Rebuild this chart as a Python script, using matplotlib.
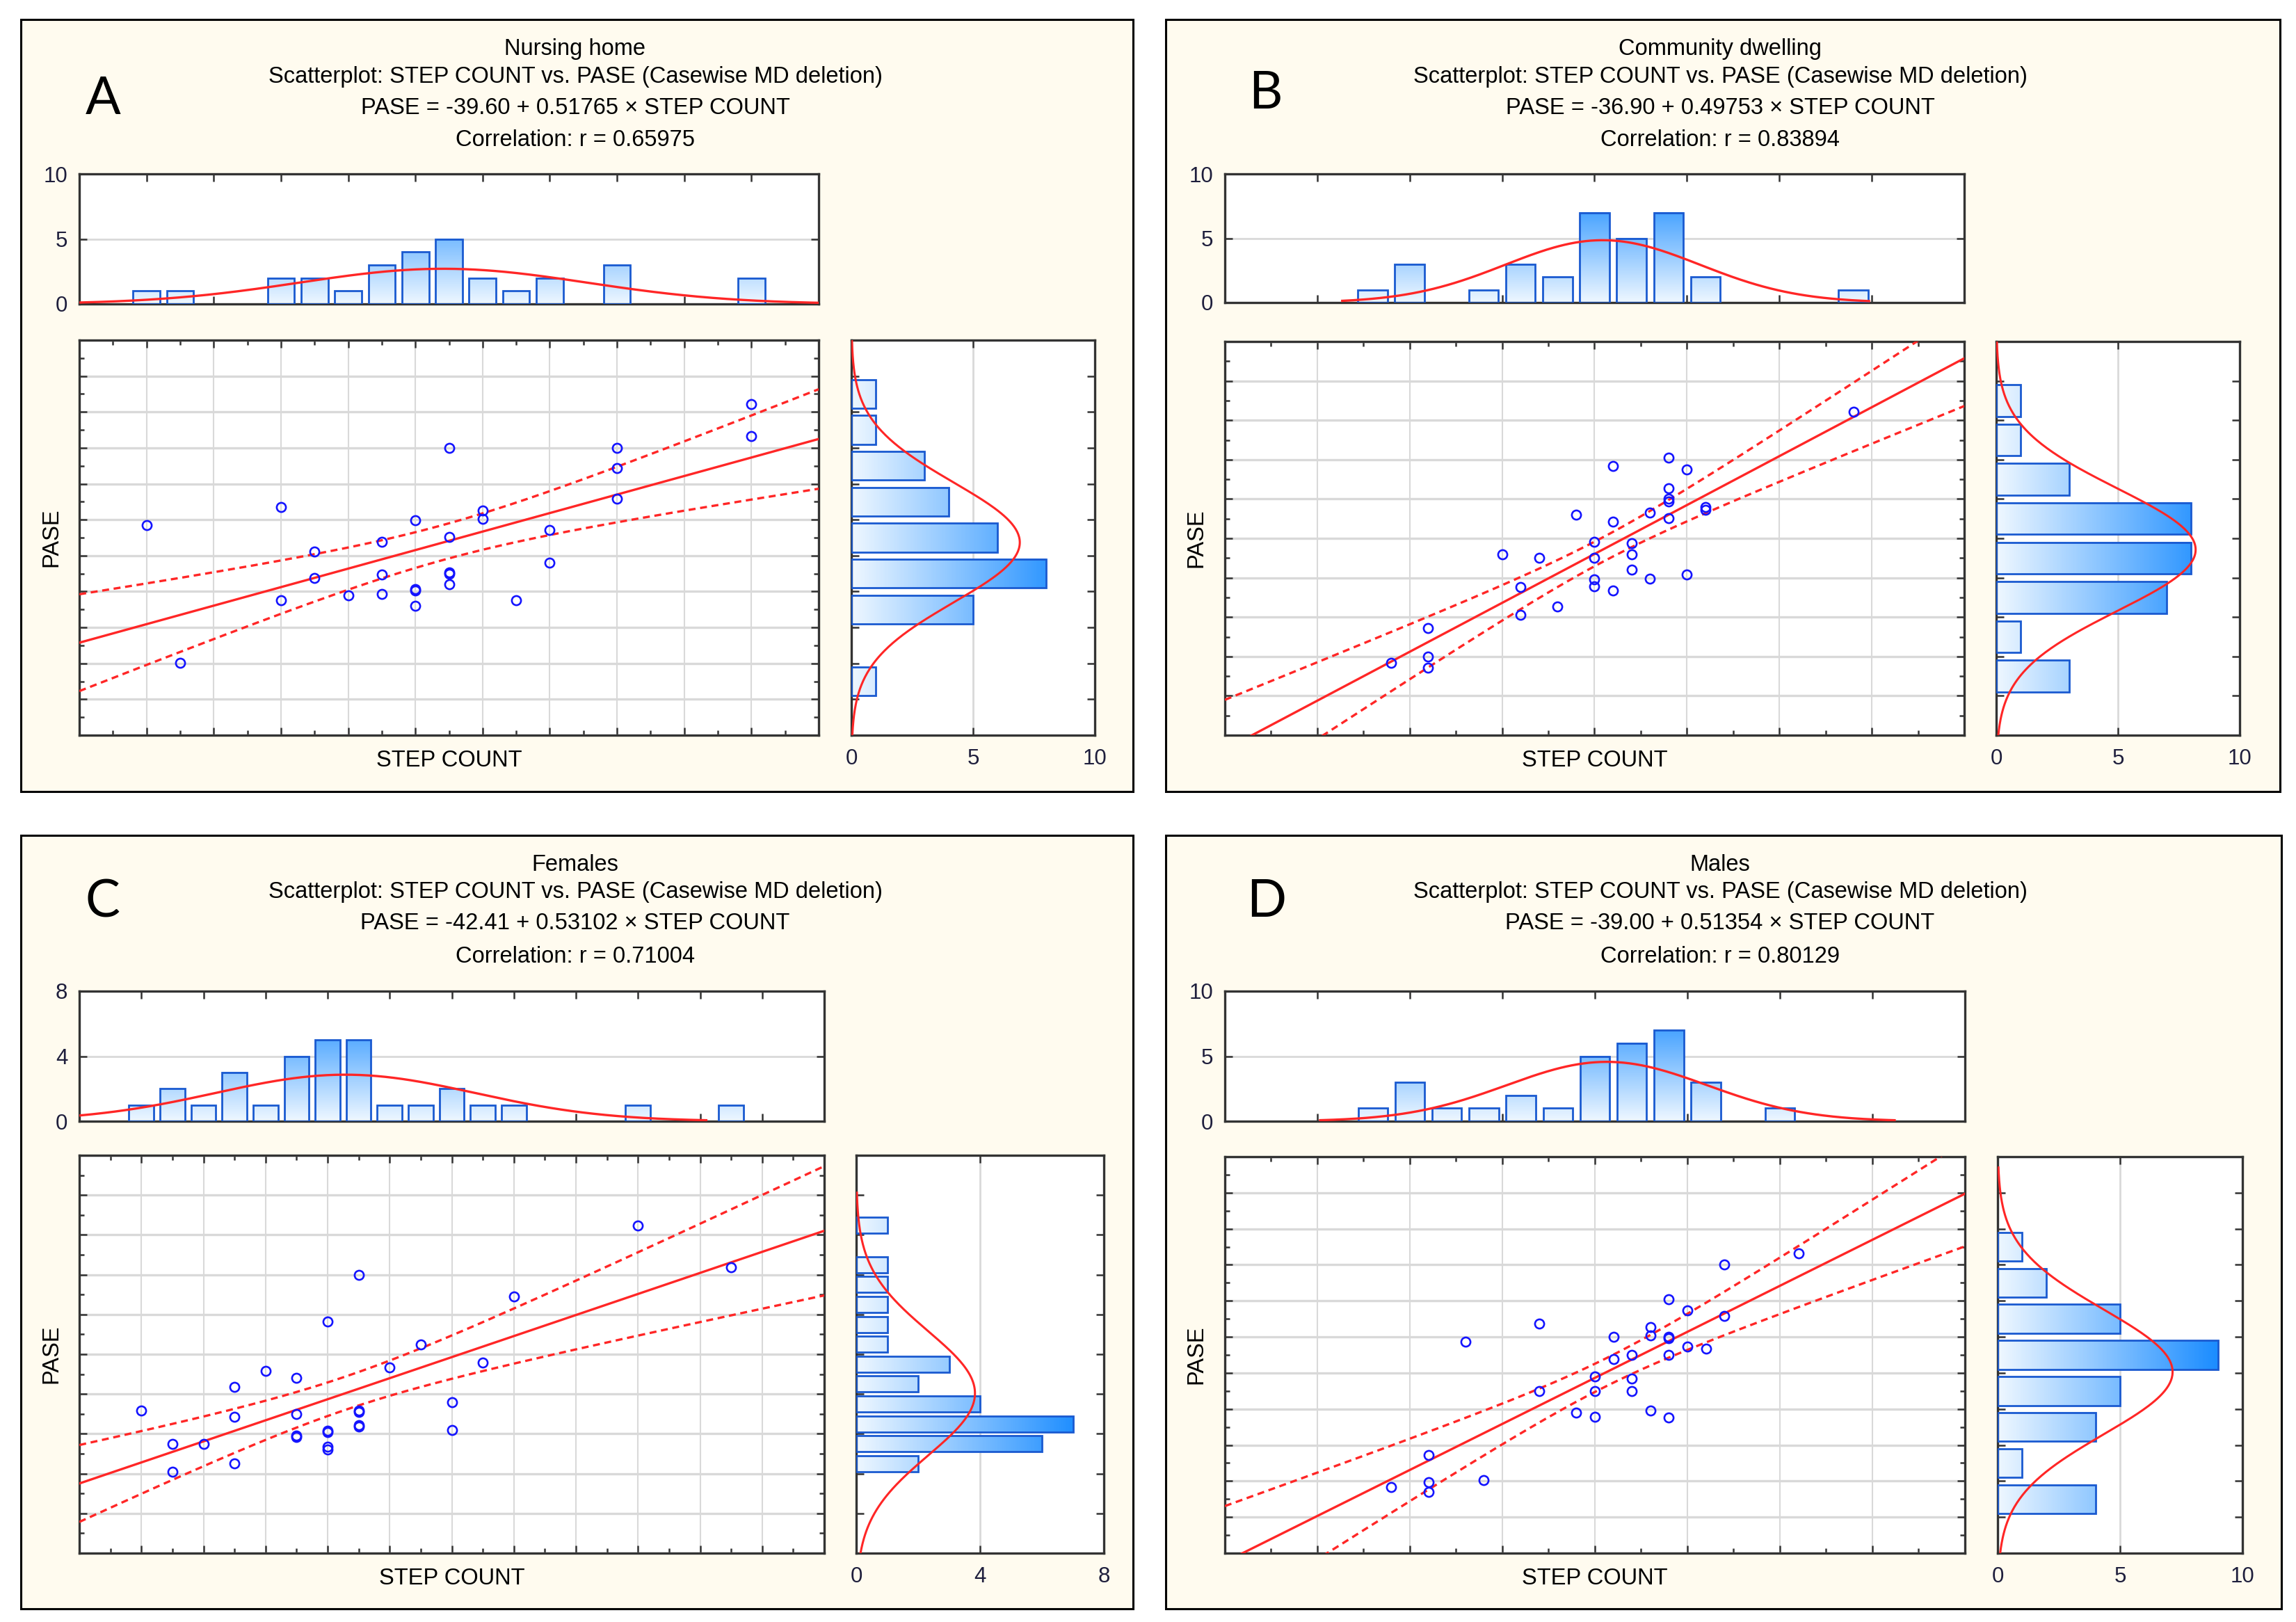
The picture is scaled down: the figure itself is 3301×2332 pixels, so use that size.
import numpy as np
import matplotlib
matplotlib.use("Agg")
import matplotlib.pyplot as plt
from matplotlib.colors import LinearSegmentedColormap
from matplotlib.patches import Rectangle
from matplotlib.ticker import MultipleLocator, FixedLocator

# ---------------- DATA (axis grid units) ----------------
titles_A = ["Nursing home",
            "Scatterplot: STEP COUNT vs. PASE (Casewise MD deletion)",
            "PASE = -39.60 + 0.51765 \u00d7 STEP COUNT",
            "Correlation: r = 0.65975"]
titles_B = ["Community dwelling",
            "Scatterplot: STEP COUNT vs. PASE (Casewise MD deletion)",
            "PASE = -36.90 + 0.49753 \u00d7 STEP COUNT",
            "Correlation: r = 0.83894"]
titles_C = ["Females",
            "Scatterplot: STEP COUNT vs. PASE (Casewise MD deletion)",
            "PASE = -42.41 + 0.53102 \u00d7 STEP COUNT",
            "Correlation: r = 0.71004"]
titles_D = ["Males",
            "Scatterplot: STEP COUNT vs. PASE (Casewise MD deletion)",
            "PASE = -39.00 + 0.51354 \u00d7 STEP COUNT",
            "Correlation: r = 0.80129"]

# Panel A: Nursing home
step_A = [1.0, 1.5, 3.0, 3.0, 3.5, 3.5, 4.0, 4.5, 4.5, 4.5, 5.0, 5.0, 5.0, 5.0,
          5.5, 5.5, 5.5, 5.5, 5.5, 6.0, 6.0, 6.5, 7.0, 7.0, 8.0, 8.0, 8.0, 10.0, 10.0]
pase_A = [5.84, 2.01, 6.35, 3.75, 5.11, 4.38, 3.89, 5.38, 4.47, 3.94, 5.99, 4.07, 4.02, 3.61,
          7.99, 5.51, 4.54, 4.49, 4.20, 6.26, 6.02, 3.76, 5.71, 4.80, 7.99, 7.44, 6.58, 9.22, 8.32]
hx_bins_A = [1.0, 1.5, 3.0, 3.5, 4.0, 4.5, 5.0, 5.5, 6.0, 6.5, 7.0, 8.0, 10.0]
hx_counts_A = [1, 1, 2, 2, 1, 3, 4, 5, 2, 1, 2, 3, 2]
hy_bins_A = [9.5, 8.5, 7.5, 6.5, 5.5, 4.5, 3.5, 1.5]
hy_counts_A = [1, 1, 3, 4, 6, 8, 5, 1]

# Panel B: Community dwelling
step_B = [6.8, 4.2, 4.8, 5.0, 4.8, 4.8, 4.8, 5.2, 5.2, 3.8, 4.6, 4.8, 4.2, 4.0, 4.4, 3.0,
          3.4, 4.0, 4.4, 4.4, 4.0, 4.0, 4.2, 4.6, 5.0, 3.2, 3.6, 3.2, 2.2, 1.8, 2.2, 2.2]
pase_B = [8.22, 6.84, 7.05, 6.75, 6.27, 6.00, 5.94, 5.79, 5.73, 5.60, 5.66, 5.51, 5.42, 4.92, 4.87, 4.59,
          4.51, 4.51, 4.59, 4.21, 3.95, 3.78, 3.68, 3.97, 4.08, 3.76, 3.27, 3.05, 2.72, 1.84, 1.99, 1.72]
hx_bins_B = [1.6, 2.0, 2.8, 3.2, 3.6, 4.0, 4.4, 4.8, 5.2, 6.8]
hx_counts_B = [1, 3, 1, 3, 2, 7, 5, 7, 2, 1]
hy_bins_B = [8.5, 7.5, 6.5, 5.5, 4.5, 3.5, 2.5, 1.5]
hy_counts_B = [1, 1, 3, 8, 8, 7, 1, 3]

# Panel C: Females
step_C = [9.0, 10.5, 4.5, 7.0, 4.0, 5.5, 5.0, 6.5, 3.0, 3.5, 2.5, 1.0, 2.5, 3.5, 4.5,
          4.5, 6.0, 4.5, 4.5, 4.0, 4.0, 3.5, 3.5, 6.0, 1.5, 2.0, 4.0, 4.0, 2.5, 1.5]
pase_C = [8.23, 7.19, 6.99, 6.45, 5.83, 5.24, 4.67, 4.79, 4.58, 4.41, 4.17, 3.59, 3.42, 3.50, 3.59,
          3.55, 3.79, 3.21, 3.19, 3.08, 3.05, 2.95, 2.92, 3.09, 2.75, 2.75, 2.67, 2.60, 2.25, 2.04]
hx_bins_C = [1.0, 1.5, 2.0, 2.5, 3.0, 3.5, 4.0, 4.5, 5.0, 5.5, 6.0, 6.5, 7.0, 9.0, 10.5]
hx_counts_C = [1, 2, 1, 3, 1, 4, 5, 5, 1, 1, 2, 1, 1, 1, 1]
hy_bins_C = [8.25, 7.25, 6.75, 6.25, 5.75, 5.25, 4.75, 4.25, 3.75, 3.25, 2.75, 2.25]
hy_counts_C = [1, 1, 1, 1, 1, 1, 3, 2, 4, 7, 6, 2]

# Panel D: Males
step_D = [6.2, 5.4, 4.8, 5.0, 5.4, 3.4, 4.6, 4.6, 4.8, 4.8, 4.2, 2.6, 5.0, 5.2, 4.4, 4.2,
          4.8, 4.0, 4.4, 3.4, 4.0, 4.4, 3.8, 4.0, 4.6, 4.8, 2.2, 1.8, 2.2, 2.2, 2.8]
pase_D = [8.32, 8.00, 7.04, 6.74, 6.59, 6.36, 6.28, 6.04, 6.00, 5.96, 6.00, 5.86, 5.73, 5.67, 5.50, 5.39,
          5.50, 4.90, 4.85, 4.49, 4.50, 4.50, 3.90, 3.79, 3.95, 3.76, 2.72, 1.84, 1.97, 1.70, 2.02]
hx_bins_D = [1.6, 2.0, 2.4, 2.8, 3.2, 3.6, 4.0, 4.4, 4.8, 5.2, 6.0]
hx_counts_D = [1, 3, 1, 1, 2, 1, 5, 6, 7, 3, 1]
hy_bins_D = [8.5, 7.5, 6.5, 5.5, 4.5, 3.5, 2.5, 1.5]
hy_counts_D = [1, 2, 5, 9, 5, 4, 1, 4]

panel_letters = ["A", "B", "C", "D"]

# ---------------- STYLE / LAYOUT ----------------
W, H = 3301, 2332
CREAM = "#FFFBEF"
GRID = "#D9D9D9"
SPINE = "#333333"
RED = "#FF2626"
PTBLUE = "#1414FF"
BAREDGE = "#1A5AD0"
TICKTXT = "#1E1E3C"
cmap = LinearSegmentedColormap.from_list("bars", ["#EEF7FF", "#1C8DFF"])
FONT = "Liberation Sans"

panels = [
    dict(box=(30, 28, 1629, 1138), top=(114, 250, 1177, 437), sc=(114, 489, 1177, 1057),
         rh=(1224, 489, 1574, 1057), letter=(148, 142), nx=11, ny=11, hmax=10, rmax=10,
         titles=titles_A, x=step_A, y=pase_A, hxb=hx_bins_A, hxc=hx_counts_A, hxw=0.5,
         hyb=hy_bins_A, hyc=hy_counts_A, hyw=1.0, tc=(0, 11), rc=(0, 11)),
    dict(box=(1676, 28, 3278, 1138), top=(1761, 250, 2824, 435), sc=(1761, 491, 2824, 1057),
         rh=(2870, 491, 3220, 1057), letter=(1819, 134), nx=8, ny=10, hmax=10, rmax=10,
         titles=titles_B, x=step_B, y=pase_B, hxb=hx_bins_B, hxc=hx_counts_B, hxw=0.4,
         hyb=hy_bins_B, hyc=hy_counts_B, hyw=1.0, tc=(1.27, 6.97), rc=(0, 10)),
    dict(box=(30, 1201, 1629, 2313), top=(114, 1425, 1185, 1612), sc=(114, 1661, 1185, 2233),
         rh=(1231, 1661, 1587, 2233), letter=(148, 1297), nx=12, ny=10, hmax=8, rmax=8,
         titles=titles_C, x=step_C, y=pase_C, hxb=hx_bins_C, hxc=hx_counts_C, hxw=0.5,
         hyb=hy_bins_C, hyc=hy_counts_C, hyw=0.5, tc=(0, 10.1), rc=(0, 9.06)),
    dict(box=(1676, 1201, 3280, 2313), top=(1761, 1425, 2825, 1612), sc=(1761, 1663, 2825, 2233),
         rh=(2872, 1663, 3224, 2233), letter=(1821, 1297), nx=8, ny=11, hmax=10, rmax=10,
         titles=titles_D, x=step_D, y=pase_D, hxb=hx_bins_D, hxc=hx_counts_D, hxw=0.4,
         hyb=hy_bins_D, hyc=hy_counts_D, hyw=1.0, tc=(1.03, 7.24), rc=(0, 10.7)),
]

fig = plt.figure(figsize=(W / 100, H / 100), dpi=100)
fig.patch.set_facecolor("white")


def rect(r):
    x0, y0, x1, y1 = r
    return [x0 / W, 1 - y1 / H, (x1 - x0) / W, (y1 - y0) / H]


def style_spines(ax):
    for s in ax.spines.values():
        s.set_color(SPINE)
        s.set_linewidth(2.4)


def t975(df):
    z = 1.959964
    return (z + (z**3 + z) / (4 * df) + (5 * z**5 + 16 * z**3 + 3 * z) / (96 * df**2)
            + (3 * z**7 + 19 * z**5 + 17 * z**3 - 15 * z) / (384 * df**3))


def npdf(v, m, s):
    return np.exp(-0.5 * ((v - m) / s) ** 2) / (s * np.sqrt(2 * np.pi))


for i, p in enumerate(panels):
    bx0, by0, bx1, by1 = p["box"]
    fig.patches.append(Rectangle((bx0 / W, 1 - by1 / H), (bx1 - bx0) / W, (by1 - by0) / H,
                                 transform=fig.transFigure, facecolor=CREAM,
                                 edgecolor="black", lw=2.2, zorder=-5))
    # titles
    tcx = (bx0 + 797) / W
    for txt, dy in zip(p["titles"], [42, 82, 127, 174]):
        fig.text(tcx, 1 - (by0 + dy) / H, txt, ha="center", va="center",
                 fontsize=23.5, family=FONT, color="black")
    lx, ly = p["letter"]
    fig.text(lx / W, 1 - ly / H, panel_letters[i], ha="center", va="center",
             fontsize=54, family="Lato", color="black")

    x = np.array(p["x"], float)
    y = np.array(p["y"], float)
    n = len(x)
    nx, ny = p["nx"], p["ny"]

    # ---------- scatter ----------
    ax = fig.add_axes(rect(p["sc"]))
    ax.set_xlim(0, nx)
    ax.set_ylim(0, ny)
    ax.xaxis.set_major_locator(MultipleLocator(1))
    ax.xaxis.set_minor_locator(MultipleLocator(0.5))
    ax.yaxis.set_major_locator(MultipleLocator(1))
    ax.yaxis.set_minor_locator(MultipleLocator(0.5))
    ax.tick_params(which="both", direction="in", top=True, right=True,
                   labelbottom=False, labelleft=False, color=SPINE, width=1.8)
    ax.tick_params(which="major", length=8)
    ax.tick_params(which="minor", length=5)
    ax.grid(which="major", axis="x", color=GRID, lw=1.5)
    ax.grid(which="major", axis="y", color=GRID, lw=2.4)
    ax.set_axisbelow(True)
    style_spines(ax)

    b, a = np.polyfit(x, y, 1)
    xx = np.linspace(0, nx, 300)
    yhat = a + b * xx
    resid = y - (a + b * x)
    s = np.sqrt(np.sum(resid**2) / (n - 2))
    sxx = np.sum((x - x.mean()) ** 2)
    half = t975(n - 2) * s * np.sqrt(1.0 / n + (xx - x.mean()) ** 2 / sxx)
    ax.plot(xx, yhat, color=RED, lw=2.4, zorder=3)
    ax.plot(xx, yhat + half, color=RED, lw=2.4, ls=(0, (3, 2.0)), zorder=3)
    ax.plot(xx, yhat - half, color=RED, lw=2.4, ls=(0, (3, 2.0)), zorder=3)
    ax.plot(x, y, ls="none", marker="o", ms=9.5, mfc="none", mec=PTBLUE, mew=1.9, zorder=4)

    fig.text(((p["sc"][0] + p["sc"][2]) / 2) / W, 1 - (p["sc"][3] + 37) / H, "STEP COUNT",
             ha="center", va="center", fontsize=23.5, family=FONT, color="black")
    fig.text((bx0 + 44) / W, 1 - ((p["sc"][1] + p["sc"][3]) / 2) / H, "PASE",
             ha="center", va="center", rotation=90, fontsize=23.5, family=FONT, color="black")

    # ---------- top histogram ----------
    at = fig.add_axes(rect(p["top"]))
    hmax = p["hmax"]
    vmax = 0.9 * hmax
    for c, k in zip(p["hxb"], p["hxc"]):
        w = p["hxw"] * 0.8
        x0, x1 = c - w / 2, c + w / 2
        grad = np.linspace(0, k / vmax, 64).reshape(-1, 1)
        at.imshow(grad, extent=(x0, x1, 0, k), origin="lower", cmap=cmap, vmin=0, vmax=1,
                  aspect="auto", interpolation="bilinear", zorder=2)
        at.add_patch(Rectangle((x0, 0), w, k, facecolor="none", edgecolor=BAREDGE,
                               lw=2.0, zorder=3))
    cx = np.linspace(p["tc"][0], p["tc"][1], 300)
    at.plot(cx, n * p["hxw"] * npdf(cx, x.mean(), x.std(ddof=1)), color=RED, lw=2.4, zorder=4)
    at.set_xlim(0, nx)
    at.set_ylim(0, hmax)
    at.xaxis.set_major_locator(MultipleLocator(1))
    at.yaxis.set_major_locator(FixedLocator([0, hmax / 2, hmax]))
    at.set_yticklabels([f"{v:g}" for v in [0, hmax / 2, hmax]])
    at.tick_params(direction="in", top=True, right=True, labelbottom=False, length=8,
                   width=1.8, color=SPINE, labelsize=22.5, labelcolor=TICKTXT, pad=12)
    for lab in at.get_yticklabels():
        lab.set_family(FONT)
    at.grid(axis="y", color=GRID, lw=2.0)
    at.set_axisbelow(True)
    style_spines(at)

    # ---------- right histogram ----------
    ar = fig.add_axes(rect(p["rh"]))
    rmax = p["rmax"]
    vmax_r = 0.9 * rmax
    for c, k in zip(p["hyb"], p["hyc"]):
        h = p["hyw"] * 0.8
        y0, y1 = c - h / 2, c + h / 2
        grad = np.linspace(0, k / vmax_r, 64).reshape(1, -1)
        ar.imshow(grad, extent=(0, k, y0, y1), origin="lower", cmap=cmap, vmin=0, vmax=1,
                  aspect="auto", interpolation="bilinear", zorder=2)
        ar.add_patch(Rectangle((0, y0), k, h, facecolor="none", edgecolor=BAREDGE,
                               lw=2.0, zorder=3))
    cy = np.linspace(p["rc"][0], p["rc"][1], 300)
    ar.plot(n * p["hyw"] * npdf(cy, y.mean(), y.std(ddof=1)), cy, color=RED, lw=2.2, zorder=4)
    ar.set_xlim(0, rmax)
    ar.set_ylim(0, ny)
    ar.yaxis.set_major_locator(MultipleLocator(1))
    ar.xaxis.set_major_locator(FixedLocator([0, rmax / 2, rmax]))
    ar.set_xticklabels([f"{v:g}" for v in [0, rmax / 2, rmax]])
    ar.tick_params(direction="in", top=True, right=True, labelleft=False, length=8,
                   width=1.8, color=SPINE, labelsize=22.5, labelcolor=TICKTXT, pad=14)
    for lab in ar.get_xticklabels():
        lab.set_family(FONT)
    ar.grid(axis="x", color=GRID, lw=2.0)
    ar.set_axisbelow(True)
    style_spines(ar)

fig.savefig("out.png", dpi=100, facecolor="white")
